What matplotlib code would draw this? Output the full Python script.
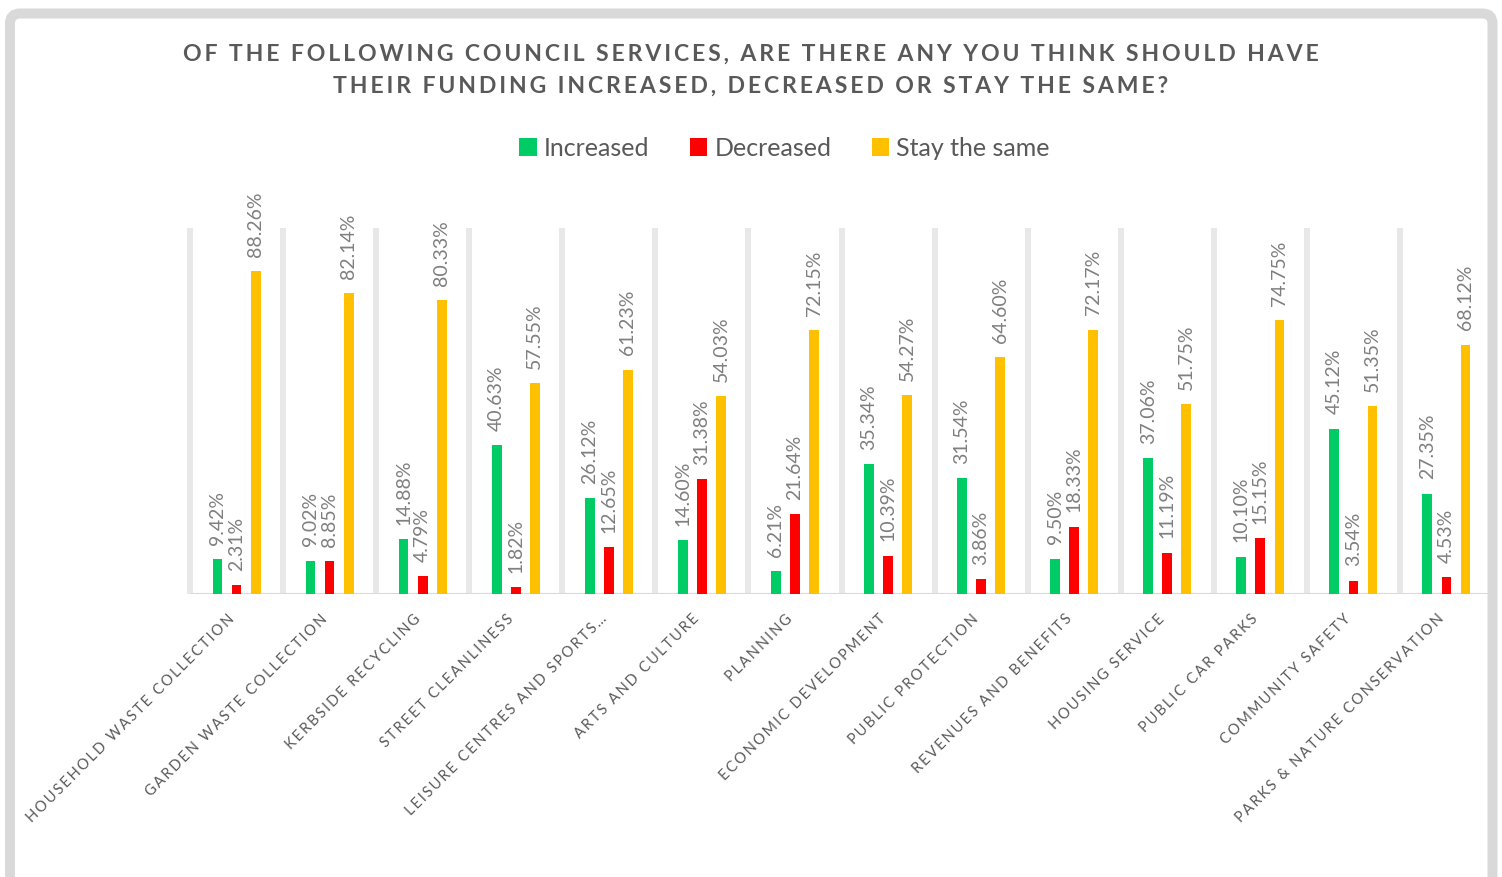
import matplotlib
matplotlib.use("Agg")
import matplotlib.pyplot as plt
import numpy as np
from matplotlib.patches import FancyBboxPatch, Patch
from matplotlib.transforms import IdentityTransform

plt.rcParams['font.family'] = ['Lato', 'DejaVu Sans']

#----------DATA----------
services = ["Household Waste Collection", "Garden Waste Collection", "Kerbside Recycling",
            "Street Cleanliness", "Leisure Centres and Sports\u2026", "Arts and Culture",
            "Planning", "Economic Development", "Public Protection",
            "Revenues and Benefits", "Housing Service", "Public Car Parks",
            "Community Safety", "Parks & Nature Conservation"]
increased = [9.42, 9.02, 14.88, 40.63, 26.12, 14.60, 6.21, 35.34, 31.54, 9.50, 37.06, 10.10, 45.12, 27.35]
decreased = [2.31, 8.85, 4.79, 1.82, 12.65, 31.38, 21.64, 10.39, 3.86, 18.33, 11.19, 15.15, 3.54, 4.53]
same = [88.26, 82.14, 80.33, 57.55, 61.23, 54.03, 72.15, 54.27, 64.60, 72.17, 51.75, 74.75, 51.35, 68.12]

series_names = ["Increased", "Decreased", "Stay the same"]
colors = ["#00CC66", "#FF0000", "#FFC000"]

title_1 = "OF THE FOLLOWING COUNCIL SERVICES, ARE THERE ANY YOU THINK SHOULD HAVE"
title_2 = "THEIR FUNDING INCREASED, DECREASED OR STAY THE SAME?"


def spaced(s, sp="\u2009"):
    # fake letter spacing
    return sp.join(s)


W, H = 1502, 878
fig = plt.figure(figsize=(W / 100, H / 100), dpi=100)

# grey rounded frame
frame = FancyBboxPatch((10, -30), 1482.5, H - 14.5 + 30,
                       boxstyle="round,pad=0,rounding_size=10",
                       transform=IdentityTransform(), facecolor="white",
                       edgecolor="#D9D9D9", linewidth=7.2, zorder=-1)
fig.add_artist(frame)

ax = fig.add_axes([190 / W, 283.5 / H, 1303 / W, 365.5 / H])
ax.set_facecolor("none")

x = np.arange(len(services))
width = 0.105
offset = 0.205

# category separators
ax.vlines(np.arange(len(services)) - 0.5, 0, 100, colors="#E8E8E8",
          linewidth=4.3, zorder=0, clip_on=False)
ax.axhline(0, color="#D9D9D9", linewidth=1.5, zorder=1)

for i, (vals, name, col) in enumerate(zip([increased, decreased, same], series_names, colors)):
    pos = x + (i - 1) * offset
    ax.bar(pos, vals, width, color=col, label=name, zorder=2)
    for px, v in zip(pos, vals):
        ax.annotate(f"{v:.2f}%", (px, v), xytext=(0, 11), textcoords="offset points",
                    rotation=90, ha="center", va="bottom", fontsize=14,
                    color="#7F7F7F")

ax.set_xlim(-0.5, len(services) - 0.5)
ax.set_ylim(0, 100)
ax.set_yticks([])
# labels sit a little left of the category centre
ax.set_xticks(x - 0.05)
ax.set_xticklabels([spaced(s.upper()) for s in services], rotation=45, ha="right",
                   va="center", rotation_mode="anchor", fontsize=10.5, color="#595959")
ax.tick_params(axis="x", length=0, pad=16)
for sp in ax.spines.values():
    sp.set_visible(False)

# title
fig.text(0.5, 1 - 54 / H, spaced(title_1), ha="center", va="center", fontsize=16.6,
         weight="bold", color="#595959")
fig.text(0.5, 1 - 86 / H, spaced(title_2), ha="center", va="center", fontsize=16.6,
         weight="bold", color="#595959")

handles = [Patch(facecolor=c, label=n) for c, n in zip(colors, series_names)]
fig.legend(handles=handles, loc="center", bbox_to_anchor=(784.5 / W, 1 - 149 / H),
           ncol=3, frameon=False, fontsize=18, handlelength=0.7, handleheight=0.7,
           handletextpad=0.3, columnspacing=1.6, labelcolor="#595959")

fig.savefig("out.png", dpi=100)
